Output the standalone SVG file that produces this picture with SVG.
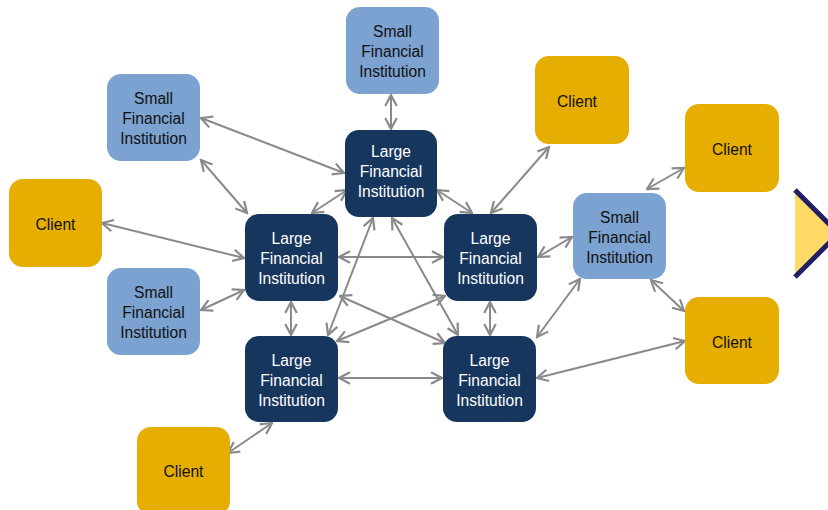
<svg xmlns="http://www.w3.org/2000/svg" width="828" height="510" viewBox="0 0 828 510">
  <defs>
    <marker id="arrow" viewBox="0 0 14 14" refX="12.5" refY="7" markerWidth="14" markerHeight="14" markerUnits="userSpaceOnUse" orient="auto-start-reverse">
      <path d="M1.5,1.2 L12.5,7 L1.5,12.8" fill="none" stroke="#8a8a8a" stroke-width="2.2"/>
    </marker>
    <style>
      .large rect { fill: #17365d; }
      .small rect { fill: #7ba2d0; }
      .client rect { fill: #e6ae00; }
      text { font-family: "Liberation Sans", Arial, sans-serif; font-size: 15.6px; text-anchor: middle; }
      .large text { fill: #ffffff; }
      .small text, .client text { fill: #111111; }
      #connectors line { stroke: #8a8a8a; stroke-width: 2; marker-start: url(#arrow); marker-end: url(#arrow); }
    </style>
  </defs>

  <rect width="828" height="510" fill="#ffffff"/>

  <!-- connectors -->
  <g id="connectors">
    <line x1="391" y1="95" x2="391" y2="129"/>
    <line x1="201" y1="118" x2="344" y2="173"/>
    <line x1="201" y1="160" x2="247" y2="213"/>
    <line x1="102" y1="223" x2="244" y2="258"/>
    <line x1="201" y1="310" x2="244" y2="290"/>
    <line x1="347" y1="190" x2="312" y2="213"/>
    <line x1="437" y1="190" x2="472" y2="213"/>
    <line x1="339" y1="257" x2="443" y2="257"/>
    <line x1="291" y1="302" x2="291" y2="335"/>
    <line x1="490" y1="302" x2="490" y2="335"/>
    <line x1="339" y1="378" x2="442" y2="378"/>
    <line x1="373" y1="218" x2="328" y2="335"/>
    <line x1="392" y1="218" x2="458" y2="335"/>
    <line x1="340" y1="296" x2="445" y2="343"/>
    <line x1="445" y1="296" x2="337" y2="341"/>
    <line x1="549" y1="147" x2="491" y2="213"/>
    <line x1="572" y1="237" x2="538" y2="257"/>
    <line x1="580" y1="279" x2="537" y2="337"/>
    <line x1="647" y1="189" x2="684" y2="168"/>
    <line x1="651" y1="280" x2="684" y2="311"/>
    <line x1="537" y1="378" x2="685" y2="341"/>
    <line x1="228" y1="453" x2="272" y2="423"/>
  </g>

  <!-- small institutions -->
  <g id="small-top" class="small">
    <rect x="346" y="7" width="93" height="87" rx="14"/>
    <text x="392.5" y="37">Small</text>
    <text x="392.5" y="57">Financial</text>
    <text x="392.5" y="77">Institution</text>
  </g>
  <g id="small-upper-left" class="small">
    <rect x="107" y="74" width="93" height="87" rx="14"/>
    <text x="153.5" y="104">Small</text>
    <text x="153.5" y="124">Financial</text>
    <text x="153.5" y="144">Institution</text>
  </g>
  <g id="small-lower-left" class="small">
    <rect x="107" y="268" width="93" height="87" rx="14"/>
    <text x="153.5" y="298">Small</text>
    <text x="153.5" y="318">Financial</text>
    <text x="153.5" y="338">Institution</text>
  </g>
  <g id="small-right" class="small">
    <rect x="573" y="193" width="93" height="86" rx="14"/>
    <text x="619.5" y="223">Small</text>
    <text x="619.5" y="243">Financial</text>
    <text x="619.5" y="263">Institution</text>
  </g>

  <!-- large institutions -->
  <g id="large-top" class="large">
    <rect x="345" y="130" width="92" height="87" rx="14"/>
    <text x="391" y="157">Large</text>
    <text x="391" y="177">Financial</text>
    <text x="391" y="197">Institution</text>
  </g>
  <g id="large-left" class="large">
    <rect x="245" y="214" width="93" height="87" rx="14"/>
    <text x="291.5" y="244">Large</text>
    <text x="291.5" y="264">Financial</text>
    <text x="291.5" y="284">Institution</text>
  </g>
  <g id="large-right" class="large">
    <rect x="444" y="214" width="93" height="87" rx="14"/>
    <text x="490.5" y="244">Large</text>
    <text x="490.5" y="264">Financial</text>
    <text x="490.5" y="284">Institution</text>
  </g>
  <g id="large-bottom-left" class="large">
    <rect x="245" y="336" width="93" height="86" rx="14"/>
    <text x="291.5" y="366">Large</text>
    <text x="291.5" y="386">Financial</text>
    <text x="291.5" y="406">Institution</text>
  </g>
  <g id="large-bottom-right" class="large">
    <rect x="443" y="336" width="93" height="86" rx="14"/>
    <text x="489.5" y="366">Large</text>
    <text x="489.5" y="386">Financial</text>
    <text x="489.5" y="406">Institution</text>
  </g>

  <!-- clients -->
  <g id="client-top" class="client">
    <rect x="535" y="56" width="94" height="88" rx="14"/>
    <text x="577" y="107">Client</text>
  </g>
  <g id="client-right-upper" class="client">
    <rect x="685" y="104" width="94" height="88" rx="14"/>
    <text x="732" y="155">Client</text>
  </g>
  <g id="client-left" class="client">
    <rect x="9" y="179" width="93" height="88" rx="14"/>
    <text x="55.5" y="230">Client</text>
  </g>
  <g id="client-right-lower" class="client">
    <rect x="685" y="297" width="94" height="87" rx="14"/>
    <text x="732" y="348">Client</text>
  </g>
  <g id="client-bottom" class="client">
    <rect x="137" y="427" width="93" height="88" rx="14"/>
    <text x="183.5" y="477">Client</text>
  </g>

  <!-- partial chevron at the right edge -->
  <g id="chevron">
    <polygon points="795,190 838.5,233.5 795,277" fill="#ffd966"/>
    <polyline points="795,190 838.5,233.5 795,277" fill="none" stroke="#1f1f66" stroke-width="5"/>
  </g>
</svg>
